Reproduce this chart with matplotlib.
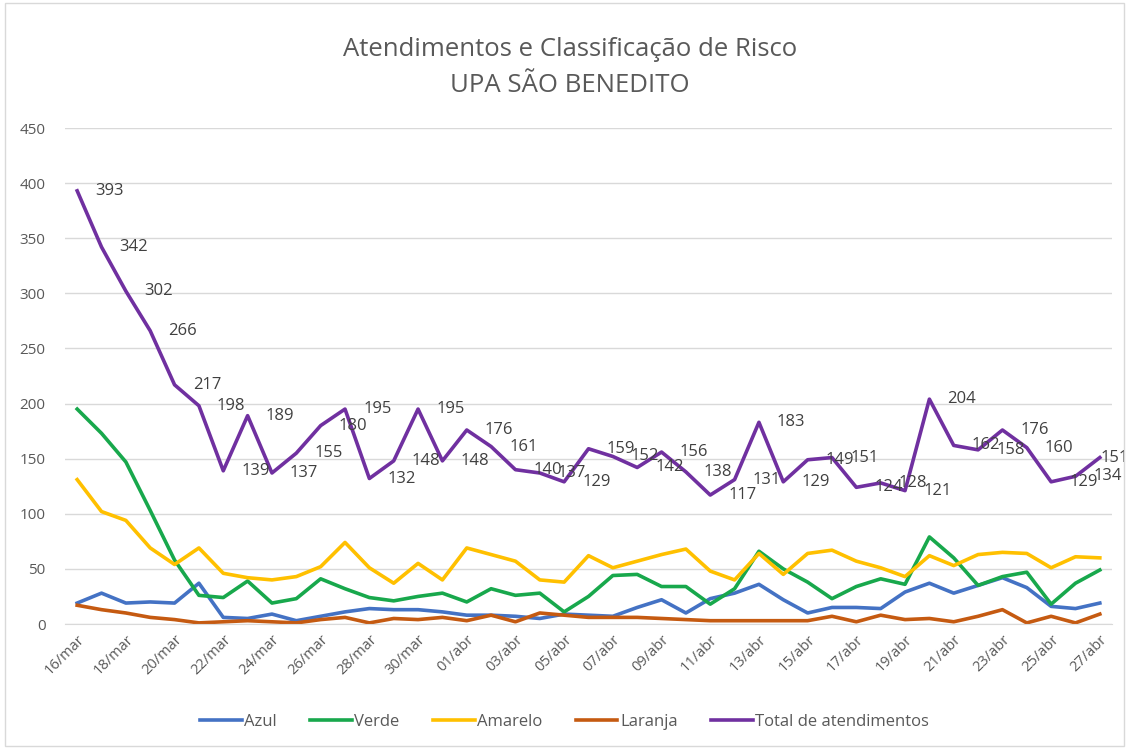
import numpy as np
import matplotlib
matplotlib.use("Agg")
import matplotlib.pyplot as plt
from matplotlib.patches import Rectangle

plt.rcParams['font.family'] = ['Open Sans', 'DejaVu Sans']

# datas: 16/mar a 27/abr
dias_mar = list(range(16, 32))
dias_abr = list(range(1, 28))
datas = [f"{d:02d}/mar" for d in dias_mar] + [f"{d:02d}/abr" for d in dias_abr]

azul = [19, 28, 19, 20, 19, 37, 6, 5, 9, 3, 7, 11, 14, 13, 13, 11, 8, 8, 7, 5, 9, 8,
        7, 15, 22, 10, 23, 28, 36, 22, 10, 15, 15, 14, 29, 37, 28, 35, 42, 33, 16, 14, 19]
verde = [195, 173, 147, 103, 58, 26, 24, 39, 19, 23, 41, 32, 24, 21, 25, 28, 20, 32, 26, 28, 11, 25,
         44, 45, 34, 34, 18, 32, 66, 50, 38, 23, 34, 41, 36, 79, 60, 35, 43, 47, 18, 37, 49]
amarelo = [131, 102, 94, 69, 54, 69, 46, 42, 40, 43, 52, 74, 51, 37, 55, 40, 69, 63, 57, 40, 38, 62,
           51, 57, 63, 68, 48, 40, 64, 45, 64, 67, 57, 51, 43, 62, 53, 63, 65, 64, 51, 61, 60]
laranja = [17, 13, 10, 6, 4, 1, 2, 3, 2, 1, 4, 6, 1, 5, 4, 6, 3, 8, 2, 10, 8, 6,
           6, 6, 5, 4, 3, 3, 3, 3, 3, 7, 2, 8, 4, 5, 2, 7, 13, 1, 7, 1, 9]
total = [393, 342, 302, 266, 217, 198, 139, 189, 137, 155, 180, 195, 132, 148, 195, 148, 176, 161,
         140, 137, 129, 159, 152, 142, 156, 138, 117, 131, 183, 129, 149, 151, 124, 128, 121, 204,
         162, 158, 176, 160, 129, 134, 151]

series = [
    ("Azul", azul, "#4472C4"),
    ("Verde", verde, "#18A84C"),
    ("Amarelo", amarelo, "#FFC000"),
    ("Laranja", laranja, "#C55A11"),
    ("Total de atendimentos", total, "#7030A0"),
]

fig = plt.figure(figsize=(11.29, 7.49), dpi=100)
ax = fig.add_axes([65/1129, 1-624/749, 1047/1129, 496/749])

x = np.arange(len(datas))
for nome, vals, cor in series:
    ax.plot(x, vals, color=cor, lw=2.6, label=nome, solid_joinstyle='round')

# rótulos de dados do total (à direita do ponto)
for xi, v in zip(x, total):
    dx = 13 if xi < len(datas) - 1 else 0.5
    ax.annotate(str(v), (xi, v), xytext=(dx, 0), textcoords='offset points',
                ha='left', va='center', fontsize=12, color='#404040')

ax.set_xlim(-0.5, len(datas) - 0.5)
ax.set_ylim(0, 450)
ax.set_yticks(range(0, 451, 50))
ax.set_xticks(x[::2])
ax.set_xticklabels(datas[::2], rotation=45, ha='right', rotation_mode='anchor',
                   fontsize=10.5, color='#595959')
ax.tick_params(axis='y', labelsize=11, labelcolor='#595959', length=0, pad=14)
ax.tick_params(axis='x', length=0, pad=6)
ax.grid(axis='y', color='#d9d9d9', lw=1)
ax.set_axisbelow(True)
for s in ['top', 'right', 'left']:
    ax.spines[s].set_visible(False)
ax.spines['bottom'].set_color('#d9d9d9')

fig.text(0.505, 1-49/749, "Atendimentos e Classificação de Risco", ha='center', va='center',
         fontsize=18.5, color='#595959')
fig.text(0.505, 1-86/749, "UPA SÃO BENEDITO", ha='center', va='center',
         fontsize=18.5, color='#595959')

fig.legend(loc='center', bbox_to_anchor=(0.5, 1-722/749), ncol=5, frameon=False,
           fontsize=12, labelcolor='#595959', handlelength=2.5, handletextpad=0.15,
           columnspacing=2.0)

fig.patches.append(Rectangle((0.004, 0.004), 0.992, 0.992, transform=fig.transFigure,
                             fill=False, ec='#d9d9d9', lw=1))

fig.savefig("out.png", dpi=100, facecolor='white')
